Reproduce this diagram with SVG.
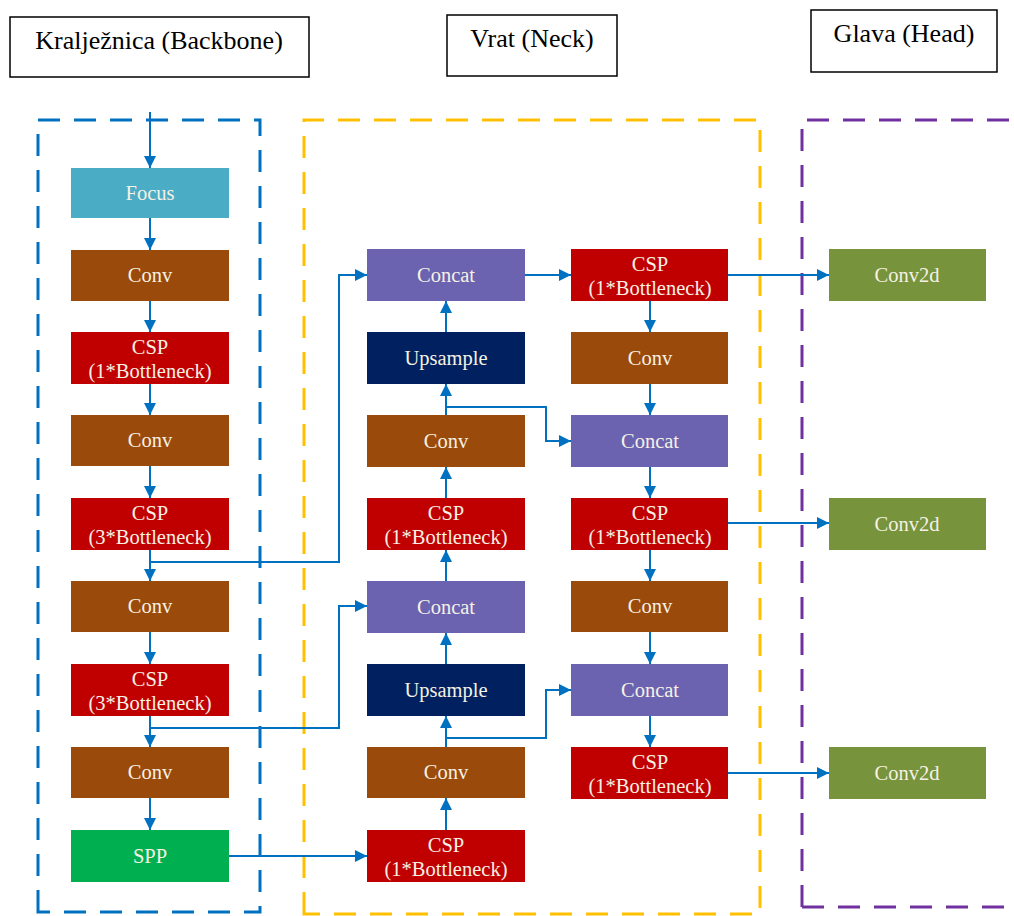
<svg xmlns="http://www.w3.org/2000/svg" width="1014" height="916" viewBox="0 0 1014 916">
<defs>
<marker id="ah" viewBox="0 0 10 10" refX="10" refY="5" markerWidth="6" markerHeight="6" orient="auto" markerUnits="strokeWidth">
<path d="M0,0 L10,5 L0,10 z" fill="#0070C0"/>
</marker>
<style>
.title{fill:#fff;stroke:#000;stroke-width:1.5}
.tt{font-family:'Liberation Serif','DejaVu Serif',serif;font-size:26px;fill:#000;text-anchor:middle}
.nt{font-family:'Liberation Serif','DejaVu Serif',serif;font-size:20.5px;fill:#F6F1E4;text-anchor:middle}
.focus{fill:#4BACC6}.conv{fill:#9A4A0A}.csp{fill:#C00000}.spp{fill:#00B050}
.concat{fill:#6B63B0}.up{fill:#002060}.c2d{fill:#77933C}
.dash{fill:none;stroke-width:3;stroke-dasharray:22 14}
.cn{fill:none;stroke:#0070C0;stroke-width:2;marker-end:url(#ah)}
</style>
</defs>
<rect width="1014" height="916" fill="#fff"/>
<g id="titles">
<g id="t-backbone"><rect class="title" x="10" y="17" width="299" height="60"/><text class="tt" x="159" y="49">Kralježnica (Backbone)</text></g>
<g id="t-neck"><rect class="title" x="447" y="15" width="170" height="61"/><text class="tt" x="532" y="47">Vrat (Neck)</text></g>
<g id="t-head"><rect class="title" x="811" y="10" width="186" height="62"/><text class="tt" x="904" y="42">Glava (Head)</text></g>
</g>
<g id="regions">
<path class="dash" stroke="#0070C0" d="M38,912 V120 H260 V912 Z"/>
<path class="dash" stroke="#FFC000" d="M304,914 V120 H760 V914 Z"/>
<path class="dash" stroke="#7030A0" d="M802,907 V120 H1030"/>
<path class="dash" stroke="#7030A0" d="M802,907 H1030"/>
</g>
<g id="connectors">
<path class="cn" d="M150,112 V168"/>
<path class="cn" d="M150,218 V250"/>
<path class="cn" d="M150,301 V332"/>
<path class="cn" d="M150,384 V415"/>
<path class="cn" d="M150,466 V498"/>
<path class="cn" d="M150,550 V581"/>
<path class="cn" d="M150,632 V664"/>
<path class="cn" d="M150,716 V747"/>
<path class="cn" d="M150,798 V830"/>
<path class="cn" d="M150,562 H339 V275 H367"/>
<path class="cn" d="M150,728 H339 V606 H367"/>
<path class="cn" d="M229,856 H367"/>
<path class="cn" d="M446,830 V798"/>
<path class="cn" d="M446,747 V716"/>
<path class="cn" d="M446,664 V633"/>
<path class="cn" d="M446,581 V550"/>
<path class="cn" d="M446,498 V467"/>
<path class="cn" d="M446,415 V384"/>
<path class="cn" d="M446,332 V301"/>
<path class="cn" d="M446,738 H546 V690 H571"/>
<path class="cn" d="M446,407 H546 V441 H571"/>
<path class="cn" d="M525,275 H571"/>
<path class="cn" d="M650,301 V332"/>
<path class="cn" d="M650,384 V415"/>
<path class="cn" d="M650,467 V498"/>
<path class="cn" d="M650,550 V581"/>
<path class="cn" d="M650,632 V664"/>
<path class="cn" d="M650,716 V747"/>
<path class="cn" d="M728,275 H829"/>
<path class="cn" d="M728,523 H829"/>
<path class="cn" d="M728,773 H829"/>
</g>
<g id="n-focus"><rect class="focus" x="71" y="168" width="158" height="50"/><text class="nt" x="150" y="200">Focus</text></g>
<g id="n-b-conv1"><rect class="conv" x="71" y="250" width="158" height="51"/><text class="nt" x="150" y="282">Conv</text></g>
<g id="n-b-csp1"><rect class="csp" x="71" y="332" width="158" height="52"/><text class="nt" x="150" y="354">CSP</text><text class="nt" x="150" y="378">(1*Bottleneck)</text></g>
<g id="n-b-conv2"><rect class="conv" x="71" y="415" width="158" height="51"/><text class="nt" x="150" y="447">Conv</text></g>
<g id="n-b-csp2"><rect class="csp" x="71" y="498" width="158" height="52"/><text class="nt" x="150" y="520">CSP</text><text class="nt" x="150" y="544">(3*Bottleneck)</text></g>
<g id="n-b-conv3"><rect class="conv" x="71" y="581" width="158" height="51"/><text class="nt" x="150" y="613">Conv</text></g>
<g id="n-b-csp3"><rect class="csp" x="71" y="664" width="158" height="52"/><text class="nt" x="150" y="686">CSP</text><text class="nt" x="150" y="710">(3*Bottleneck)</text></g>
<g id="n-b-conv4"><rect class="conv" x="71" y="747" width="158" height="51"/><text class="nt" x="150" y="779">Conv</text></g>
<g id="n-spp"><rect class="spp" x="71" y="830" width="158" height="52"/><text class="nt" x="150" y="863">SPP</text></g>
<g id="n-n1-concat1"><rect class="concat" x="367" y="249" width="158" height="52"/><text class="nt" x="446" y="282">Concat</text></g>
<g id="n-n1-up1"><rect class="up" x="367" y="332" width="158" height="52"/><text class="nt" x="446" y="365">Upsample</text></g>
<g id="n-n1-conv1"><rect class="conv" x="367" y="415" width="158" height="52"/><text class="nt" x="446" y="448">Conv</text></g>
<g id="n-n1-csp1"><rect class="csp" x="367" y="498" width="158" height="52"/><text class="nt" x="446" y="520">CSP</text><text class="nt" x="446" y="544">(1*Bottleneck)</text></g>
<g id="n-n1-concat2"><rect class="concat" x="367" y="581" width="158" height="52"/><text class="nt" x="446" y="614">Concat</text></g>
<g id="n-n1-up2"><rect class="up" x="367" y="664" width="158" height="52"/><text class="nt" x="446" y="697">Upsample</text></g>
<g id="n-n1-conv2"><rect class="conv" x="367" y="747" width="158" height="51"/><text class="nt" x="446" y="779">Conv</text></g>
<g id="n-n1-csp2"><rect class="csp" x="367" y="830" width="158" height="52"/><text class="nt" x="446" y="852">CSP</text><text class="nt" x="446" y="876">(1*Bottleneck)</text></g>
<g id="n-n2-csp1"><rect class="csp" x="571" y="249" width="157" height="52"/><text class="nt" x="650" y="271">CSP</text><text class="nt" x="650" y="295">(1*Bottleneck)</text></g>
<g id="n-n2-conv1"><rect class="conv" x="571" y="332" width="157" height="52"/><text class="nt" x="650" y="365">Conv</text></g>
<g id="n-n2-concat1"><rect class="concat" x="571" y="415" width="157" height="52"/><text class="nt" x="650" y="448">Concat</text></g>
<g id="n-n2-csp2"><rect class="csp" x="571" y="498" width="157" height="52"/><text class="nt" x="650" y="520">CSP</text><text class="nt" x="650" y="544">(1*Bottleneck)</text></g>
<g id="n-n2-conv2"><rect class="conv" x="571" y="581" width="157" height="51"/><text class="nt" x="650" y="613">Conv</text></g>
<g id="n-n2-concat2"><rect class="concat" x="571" y="664" width="157" height="52"/><text class="nt" x="650" y="697">Concat</text></g>
<g id="n-n2-csp3"><rect class="csp" x="571" y="747" width="157" height="52"/><text class="nt" x="650" y="769">CSP</text><text class="nt" x="650" y="793">(1*Bottleneck)</text></g>
<g id="n-head1"><rect class="c2d" x="829" y="249" width="157" height="52"/><text class="nt" x="907" y="282">Conv2d</text></g>
<g id="n-head2"><rect class="c2d" x="829" y="498" width="157" height="52"/><text class="nt" x="907" y="531">Conv2d</text></g>
<g id="n-head3"><rect class="c2d" x="829" y="747" width="157" height="52"/><text class="nt" x="907" y="780">Conv2d</text></g>
</svg>
